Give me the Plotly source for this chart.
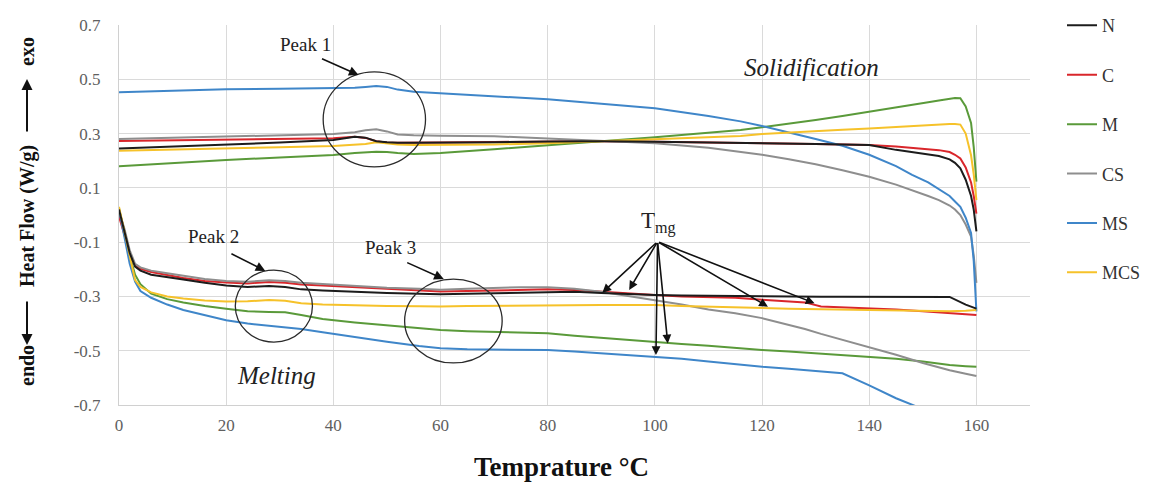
import plotly.graph_objects as go

# ---------------- data ----------------
SERIES = ["N", "C", "M", "CS", "MS", "MCS"]
COLORS = {"N": "#1c1c1c", "C": "#d9262b", "M": "#5a9a3a", "CS": "#8e8e8e",
          "MS": "#3f86c9", "MCS": "#f6c22a"}

T_MELT = [0, 1, 2, 3, 4, 6, 9, 12, 16, 20, 24, 28, 31, 34, 38, 44, 50, 56, 60, 65, 70,
          75, 80, 85, 90, 95, 100, 105, 110, 115, 120, 125, 128, 131, 135, 140, 145,
          150, 155, 158, 160]

N_MELT = [0.02, -0.06, -0.14, -0.19, -0.205, -0.22, -0.228, -0.238, -0.25, -0.26, -0.265,
          -0.262, -0.265, -0.274, -0.278, -0.283, -0.287, -0.29, -0.292, -0.29, -0.288,
          -0.285, -0.283, -0.283, -0.287, -0.292, -0.295, -0.297, -0.298, -0.3, -0.3,
          -0.3, -0.3, -0.301, -0.301, -0.301, -0.301, -0.301, -0.302, -0.33, -0.345]
C_MELT = [-0.005, -0.07, -0.14, -0.185, -0.198, -0.21, -0.222, -0.232, -0.243, -0.249,
          -0.252, -0.247, -0.25, -0.256, -0.26, -0.266, -0.272, -0.278, -0.282, -0.28,
          -0.278, -0.276, -0.274, -0.276, -0.283, -0.29, -0.295, -0.3, -0.303, -0.305,
          -0.312, -0.318, -0.322, -0.337, -0.34, -0.343, -0.348, -0.355, -0.362, -0.365,
          -0.368]
M_MELT = [0.025, -0.06, -0.15, -0.22, -0.255, -0.29, -0.31, -0.322, -0.335, -0.345,
          -0.355, -0.357, -0.358, -0.368, -0.383, -0.396, -0.406, -0.418, -0.424, -0.428,
          -0.43, -0.433, -0.436, -0.445, -0.453, -0.46, -0.467, -0.475, -0.482, -0.49,
          -0.497, -0.503, -0.507, -0.511, -0.516, -0.522, -0.53, -0.54, -0.553, -0.557,
          -0.559]
CS_MELT = [0.015, -0.05, -0.13, -0.18, -0.193, -0.205, -0.215, -0.225, -0.236, -0.243,
           -0.246, -0.24, -0.243, -0.25, -0.255, -0.262, -0.268, -0.272, -0.275, -0.272,
           -0.268, -0.266, -0.266, -0.272, -0.283, -0.298, -0.313, -0.33, -0.348, -0.362,
           -0.38, -0.405, -0.42, -0.438, -0.46, -0.487, -0.515, -0.545, -0.572, -0.585,
           -0.593]
MS_MELT = [0.02, -0.08, -0.18, -0.245, -0.28, -0.305, -0.33, -0.35, -0.37, -0.388, -0.4,
           -0.407, -0.412, -0.42, -0.432, -0.45, -0.467, -0.483, -0.491, -0.495, -0.496,
           -0.496, -0.497, -0.503, -0.51, -0.516, -0.522, -0.53, -0.54, -0.55, -0.559,
           -0.566, -0.571, -0.576, -0.583, -0.628, -0.675, -0.715, -0.76, -0.79, -0.8]
MCS_MELT = [0.03, -0.06, -0.16, -0.24, -0.265, -0.285, -0.3, -0.308, -0.315, -0.319,
            -0.318, -0.313, -0.316, -0.325, -0.33, -0.333, -0.335, -0.336, -0.337, -0.335,
            -0.334, -0.333, -0.332, -0.332, -0.332, -0.332, -0.332, -0.335, -0.338, -0.341,
            -0.343, -0.345, -0.346, -0.347, -0.348, -0.35, -0.352, -0.354, -0.355, -0.353,
            -0.35]

T_SOL = [0, 10, 20, 30, 40, 44, 46, 48, 50, 52, 55, 60, 70, 80, 90, 100, 110, 116, 120,
         125, 130, 135, 140, 145, 148, 151, 153, 155, 156, 157, 158, 159, 159.5, 160]

N_SOL = [0.245, 0.252, 0.258, 0.267, 0.276, 0.288, 0.285, 0.272, 0.268, 0.266, 0.266,
         0.266, 0.268, 0.271, 0.272, 0.27, 0.268, 0.265, 0.265, 0.263, 0.262, 0.26, 0.258,
         0.24, 0.232, 0.225, 0.217, 0.205, 0.192, 0.172, 0.13, 0.07, 0.02, -0.06]
C_SOL = [0.273, 0.276, 0.278, 0.28, 0.283, 0.288, 0.284, 0.272, 0.267, 0.266, 0.266,
         0.267, 0.269, 0.271, 0.272, 0.27, 0.268, 0.266, 0.265, 0.264, 0.262, 0.26, 0.258,
         0.252, 0.248, 0.243, 0.239, 0.232, 0.222, 0.208, 0.175, 0.12, 0.07, 0.005]
M_SOL = [0.18, 0.192, 0.203, 0.212, 0.221, 0.228, 0.231, 0.233, 0.232, 0.228, 0.225,
         0.228, 0.242, 0.258, 0.272, 0.286, 0.303, 0.313, 0.323, 0.336, 0.35, 0.365, 0.38,
         0.395, 0.405, 0.415, 0.422, 0.428, 0.431, 0.43, 0.4, 0.339, 0.25, 0.123]
CS_SOL = [0.28, 0.284, 0.288, 0.292, 0.298, 0.305, 0.312, 0.316, 0.308, 0.297, 0.294,
          0.292, 0.29, 0.282, 0.274, 0.264, 0.248, 0.233, 0.222, 0.205, 0.187, 0.165,
          0.141, 0.112, 0.092, 0.07, 0.055, 0.035, 0.02, 0.0, -0.035, -0.08, -0.15, -0.25]
MS_SOL = [0.452, 0.458, 0.463, 0.465, 0.467, 0.469, 0.472, 0.475, 0.472, 0.462, 0.454,
          0.448, 0.438, 0.426, 0.41, 0.393, 0.365, 0.345, 0.328, 0.305, 0.28, 0.255, 0.222,
          0.18, 0.148, 0.12, 0.095, 0.07, 0.05, 0.03, -0.01, -0.066, -0.17, -0.355]
MCS_SOL = [0.237, 0.242, 0.246, 0.25, 0.254, 0.258, 0.262, 0.268, 0.264, 0.26, 0.258,
           0.258, 0.26, 0.264, 0.272, 0.28, 0.288, 0.291, 0.298, 0.304, 0.309, 0.314, 0.319,
           0.325, 0.328, 0.331, 0.333, 0.335, 0.335, 0.333, 0.3, 0.22, 0.15, 0.055]

MELT = {"N": N_MELT, "C": C_MELT, "M": M_MELT, "CS": CS_MELT, "MS": MS_MELT, "MCS": MCS_MELT}
SOL = {"N": N_SOL, "C": C_SOL, "M": M_SOL, "CS": CS_SOL, "MS": MS_SOL, "MCS": MCS_SOL}

X_TICKS = [0, 20, 40, 60, 80, 100, 120, 140, 160]
Y_TICKS = [-0.7, -0.5, -0.3, -0.1, 0.1, 0.3, 0.5, 0.7]
Y_TICK_LABELS = ["-0.7", "-0.5", "-0.3", "-0.1", "0.1", "0.3", "0.5", "0.7"]

# ---------------- figure ----------------
SERIF = "Liberation Serif, Times New Roman, serif"
fig = go.Figure()
draw_order = ["C", "M", "CS", "MS", "MCS", "N"]
for name in draw_order:
    fig.add_trace(go.Scatter(
        x=T_MELT + [None] + T_SOL,
        y=MELT[name] + [None] + SOL[name],
        mode="lines", name=name, legendgroup=name,
        legendrank=SERIES.index(name) + 1,
        line=dict(color=COLORS[name], width=2),
        connectgaps=False,
    ))

# circles
CIRCLES = [(38.1, 0.177, 57.2, 0.527), (21.7, -0.468, 36.1, -0.203), (53.3, -0.545, 71.5, -0.236)]
for x0, y0, x1, y1 in CIRCLES:
    fig.add_shape(type="circle", xref="x", yref="y", x0=x0, y0=y0, x1=x1, y1=y1,
                  line=dict(color="#2b2b2b", width=1.3))

ann = []
# peak labels with arrows
PEAKS = [("Peak 1", 34.8, 0.63, 37.6, 0.578, 44.7, 0.516),
         ("Peak 2", 17.6, -0.081, 20.7, -0.14, 27.3, -0.206),
         ("Peak 3", 50.7, -0.118, 53.5, -0.173, 60.6, -0.236)]
for txt, tx, ty, ax0, ay0, hx, hy in PEAKS:
    ann.append(dict(x=tx, y=ty, xref="x", yref="y", text=txt, showarrow=False,
                    font=dict(family=SERIF, size=19, color="#222")))
    ann.append(dict(x=hx, y=hy, ax=ax0, ay=ay0, xref="x", yref="y", axref="x", ayref="y",
                    text="", showarrow=True, arrowhead=2, arrowsize=1.2, arrowwidth=1.6,
                    arrowcolor="#111"))
# Tmg
ann.append(dict(x=100.6, y=-0.026, xref="x", yref="y",
                text="T<sub>mg</sub>", showarrow=False,
                font=dict(family=SERIF, size=23, color="#222")))
TMG_TARGETS = [(90.2, -0.286), (95.2, -0.276), (100.2, -0.516), (102.4, -0.473),
               (121.1, -0.338), (129.8, -0.325)]
for hx, hy in TMG_TARGETS:
    ann.append(dict(x=hx, y=hy, ax=100.5, ay=-0.098, xref="x", yref="y", axref="x",
                    ayref="y", text="", showarrow=True, arrowhead=2, arrowsize=1.1,
                    arrowwidth=1.6, arrowcolor="#111"))
ann.append(dict(x=129.3, y=0.545, xref="x", yref="y", text="<i>Solidification</i>",
                showarrow=False, font=dict(family=SERIF, size=25, color="#222")))
ann.append(dict(x=29.3, y=-0.59, xref="x", yref="y", text="<i>Melting</i>",
                showarrow=False, font=dict(family=SERIF, size=25, color="#222")))
for a in ann:
    fig.add_annotation(**a)

W, H = 1161, 483
L, R, T, B = 119, 131, 25, 78
pw, ph = W - L - R, H - T - B


def px(xp):
    return (xp - L) / pw


def py(yp):
    return 1 - (yp - T) / ph


# axis titles placed in pixel space
fig.add_annotation(x=px(561), y=py(467), xref="paper", yref="paper",
                   xanchor="center", yanchor="middle", showarrow=False,
                   text="<b>Temprature °C</b>",
                   font=dict(family=SERIF, size=27, color="#111"))
for txt, yc in [("exo", 52), ("Heat Flow (W/g)", 216), ("endo", 366)]:
    fig.add_annotation(x=px(27), y=py(yc), xref="paper", yref="paper",
                       xanchor="center", yanchor="middle", showarrow=False,
                       textangle=-90, text="<b>%s</b>" % txt,
                       font=dict(family=SERIF, size=20, color="#111"))
# arrows of the y title (head, tail offset in px)
for head_y, tail_dy in [(79, 54), (345, -45)]:
    fig.add_annotation(x=px(27), y=py(head_y), xref="paper", yref="paper",
                       ax=0, ay=tail_dy, text="", showarrow=True, arrowhead=2,
                       arrowsize=1.1, arrowwidth=2, arrowcolor="#111")

fig.update_layout(
    width=W, height=H, margin=dict(l=L, r=R, t=T, b=B, autoexpand=False),
    paper_bgcolor="white", plot_bgcolor="white",
    font=dict(family=SERIF),
    showlegend=True,
    legend=dict(x=(1062 - L) / pw, xanchor="left", y=1.047, yanchor="top",
                font=dict(family=SERIF, size=18, color="#333"),
                tracegroupgap=23, bgcolor="rgba(0,0,0,0)", maxheight=460),
    xaxis=dict(range=[0, 170], tickvals=X_TICKS, showgrid=True, gridcolor="#dadada",
               gridwidth=1, zeroline=False, showline=True, linecolor="#d0d0d0",
               ticks="", ticklabelstandoff=5,
               tickfont=dict(family=SERIF, size=17, color="#606060")),
    yaxis=dict(range=[-0.7, 0.7], tickvals=Y_TICKS, ticktext=Y_TICK_LABELS, showgrid=True,
               gridcolor="#dadada", gridwidth=1, zeroline=False, showline=True,
               linecolor="#d0d0d0", ticks="", ticklabelstandoff=14,
               tickfont=dict(family=SERIF, size=17, color="#606060")),
)
fig.write_html("out.html")
